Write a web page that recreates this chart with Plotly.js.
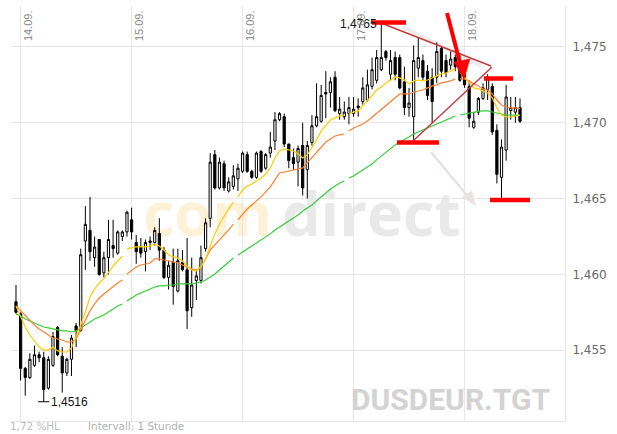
<!DOCTYPE html>
<html>
<head>
<meta charset="utf-8">
<script src="https://cdn.plot.ly/plotly-3.0.1.min.js"></script>
<style>html,body{margin:0;padding:0;background:#fff;}#chart{width:617px;height:434px;}</style>
</head>
<body>
<div id="chart"></div>
<script>
// ---- data (hourly candles, DUSDEUR.TGT) ----
const DAY_LABELS = ['14.09.', '15.09.', '16.09.', '17.09.', '18.09.'];
const DAY_START = [1, 25, 49, 73, 97];           // candle index where each day begins
const SEGMENT_START = [24, 48, 72, 96];          // indicator lines restart here

const OPEN = [1.4582,1.4574,1.4538,1.4532,1.4540,1.4547,1.4545,1.4525,1.4540,1.4565,
1.4546,1.4535,1.4544,1.4566,1.4563,1.4622,1.4629,1.4611,1.4623,1.4601,
1.4611,1.4619,1.4614,1.4625,1.4628,1.4636,1.4621,1.4618,1.4615,1.4622,
1.4621,1.4627,1.4616,1.4598,1.4608,1.4589,1.4608,1.4603,1.4578,1.4596,
1.4596,1.4617,1.4637,1.4679,1.4657,1.4673,1.4655,1.4658,1.4663,1.4668,
1.4679,1.4668,1.4664,1.4681,1.4670,1.4680,1.4688,1.4702,1.4704,1.4686,
1.4677,1.4674,1.4685,1.4669,1.4687,1.4698,1.4701,1.4720,1.4720,1.4730,
1.4706,1.4704,1.4706,1.4706,1.4711,1.4714,1.4715,1.4724,1.4728,1.4735,
1.4747,1.4732,1.4743,1.4743,1.4727,1.4710,1.4704,1.4736,1.4741,1.4734,
1.4730,1.4730,1.4749,1.4741,1.4738,1.4743,1.4739,1.4732,1.4724,1.4697,
1.4707,1.4716,1.4722,1.4724,1.4695,1.4664,1.4682,1.4708,1.4707,1.4710];

const CLOSE = [1.4575,1.4538,1.4532,1.4544,1.4547,1.4545,1.4524,1.4544,1.4559,1.4547,
1.4535,1.4544,1.4558,1.4563,1.4613,1.4633,1.4615,1.4618,1.4600,1.4611,
1.4623,1.4617,1.4628,1.4628,1.4641,1.4628,1.4615,1.4614,1.4621,1.4621,
1.4629,1.4616,1.4598,1.4606,1.4592,1.4609,1.4603,1.4576,1.4593,1.4599,
1.4611,1.4634,1.4674,1.4657,1.4674,1.4657,1.4661,1.4665,1.4670,1.4680,
1.4668,1.4664,1.4680,1.4668,1.4679,1.4684,1.4702,1.4706,1.4686,1.4675,
1.4673,1.4683,1.4657,1.4685,1.4698,1.4704,1.4718,1.4719,1.4727,1.4708,
1.4709,1.4707,1.4710,1.4709,1.4710,1.4723,1.4725,1.4735,1.4743,1.4743,
1.4743,1.4741,1.4732,1.4723,1.4710,1.4713,1.4741,1.4743,1.4730,1.4718,
1.4714,1.4747,1.4734,1.4733,1.4742,1.4737,1.4728,1.4725,1.4703,1.4701,
1.4716,1.4723,1.4730,1.4694,1.4666,1.4684,1.4717,1.4710,1.4710,1.4701];

const HIGH = [1.4593,1.4575,1.4539,1.4548,1.4553,1.4549,1.4549,1.4546,1.4562,1.4566,
1.4552,1.4545,1.4560,1.4568,1.4617,1.4645,1.4651,1.4625,1.4623,1.4615,
1.4636,1.4636,1.4629,1.4629,1.4642,1.4644,1.4626,1.4624,1.4623,1.4625,
1.4631,1.4637,1.4618,1.4609,1.4617,1.4617,1.4616,1.4624,1.4611,1.4603,
1.4619,1.4637,1.4680,1.4682,1.4677,1.4675,1.4664,1.4672,1.4673,1.4681,
1.4681,1.4669,1.4681,1.4682,1.4680,1.4694,1.4707,1.4707,1.4706,1.4686,
1.4683,1.4685,1.4700,1.4688,1.4705,1.4726,1.4725,1.4734,1.4730,1.4734,
1.4717,1.4714,1.4717,1.4717,1.4716,1.4730,1.4735,1.4743,1.4748,1.4765,
1.4748,1.4748,1.4747,1.4745,1.4737,1.4723,1.4751,1.4756,1.4745,1.4738,
1.4736,1.4753,1.4750,1.4745,1.4747,1.4745,1.4746,1.4735,1.4728,1.4707,
1.4717,1.4726,1.4732,1.4726,1.4699,1.4689,1.4725,1.4717,1.4717,1.4716];

const LOW = [1.4574,1.4530,1.4520,1.4531,1.4539,1.4542,1.4516,1.4524,1.4539,1.4546,
1.4522,1.4533,1.4533,1.4552,1.4562,1.4603,1.4609,1.4605,1.4599,1.4598,
1.4600,1.4611,1.4613,1.4622,1.4625,1.4623,1.4607,1.4611,1.4602,1.4616,
1.4619,1.4609,1.4597,1.4590,1.4580,1.4588,1.4602,1.4564,1.4572,1.4583,
1.4594,1.4615,1.4631,1.4656,1.4656,1.4655,1.4654,1.4656,1.4655,1.4667,
1.4667,1.4663,1.4663,1.4667,1.4669,1.4677,1.4682,1.4701,1.4684,1.4670,
1.4669,1.4658,1.4652,1.4650,1.4685,1.4697,1.4700,1.4703,1.4710,1.4707,
1.4702,1.4702,1.4699,1.4704,1.4704,1.4712,1.4714,1.4722,1.4726,1.4734,
1.4741,1.4728,1.4728,1.4722,1.4705,1.4704,1.4688,1.4730,1.4728,1.4715,
1.4700,1.4726,1.4730,1.4730,1.4735,1.4734,1.4727,1.4723,1.4697,1.4696,
1.4705,1.4715,1.4715,1.4692,1.4660,1.4649,1.4675,1.4702,1.4700,1.4700];

const MA_YELLOW = [1.45792,1.45726,1.45653,1.45600,1.45561,1.45521,1.45501,1.45501,1.45521,1.45495,
1.45488,1.45488,1.45515,1.45587,1.45666,1.45752,1.45851,1.45904,1.45943,1.45970,
1.46016,1.46055,1.46088,1.46121,1.46168,1.46174,1.46181,1.46181,1.46181,1.46187,
1.46201,1.46187,1.46161,1.46128,1.46115,1.46108,1.46088,1.46055,1.46029,1.46022,
1.46049,1.46102,1.46181,1.46267,1.46332,1.46385,1.46431,1.46478,1.46511,1.46557,
1.46583,1.46596,1.46616,1.46636,1.46662,1.46702,1.46768,1.46814,1.46827,1.46821,
1.46814,1.46794,1.46768,1.46788,1.46834,1.46887,1.46946,1.46985,1.47018,1.47032,
1.47045,1.47051,1.47058,1.47071,1.47078,1.47111,1.47144,1.47177,1.47216,1.47236,
1.47263,1.47282,1.47302,1.47296,1.47282,1.47256,1.47276,1.47282,1.47276,1.47282,
1.47296,1.47309,1.47322,1.47328,1.47342,1.47355,1.47335,1.47302,1.47263,1.47230,
1.47223,1.47210,1.47197,1.47164,1.47098,1.47051,1.47038,1.47038,1.47045,1.47051];

const MA_ORANGE = [1.45792,1.45759,1.45726,1.45699,1.45666,1.45640,1.45620,1.45600,1.45581,1.45574,
1.45567,1.45554,1.45554,1.45574,1.45633,1.45699,1.45759,1.45805,1.45844,1.45871,
1.45897,1.45917,1.45943,1.45963,1.46003,1.46029,1.46049,1.46062,1.46069,1.46075,
1.46102,1.46102,1.46095,1.46088,1.46082,1.46075,1.46062,1.46049,1.46036,1.46029,
1.46049,1.46102,1.46161,1.46194,1.46227,1.46253,1.46293,1.46332,1.46359,1.46398,
1.46431,1.46458,1.46484,1.46511,1.46544,1.46577,1.46623,1.46669,1.46675,1.46682,
1.46689,1.46695,1.46702,1.46735,1.46768,1.46807,1.46840,1.46873,1.46893,1.46913,
1.46920,1.46926,1.46946,1.46966,1.46979,1.46992,1.47012,1.47038,1.47065,1.47091,
1.47117,1.47144,1.47170,1.47190,1.47190,1.47190,1.47203,1.47210,1.47216,1.47230,
1.47243,1.47249,1.47263,1.47269,1.47276,1.47289,1.47289,1.47289,1.47276,1.47256,
1.47243,1.47223,1.47216,1.47190,1.47150,1.47117,1.47104,1.47098,1.47098,1.47091];

const MA_GREEN = [1.45739,1.45726,1.45706,1.45693,1.45679,1.45666,1.45653,1.45647,1.45640,1.45633,
1.45627,1.45627,1.45620,1.45627,1.45647,1.45666,1.45686,1.45706,1.45719,1.45732,
1.45752,1.45772,1.45792,1.45805,1.45825,1.45844,1.45864,1.45877,1.45891,1.45904,
1.45917,1.45924,1.45924,1.45930,1.45930,1.45937,1.45937,1.45937,1.45937,1.45943,
1.45950,1.45963,1.45983,1.46003,1.46029,1.46055,1.46082,1.46108,1.46128,1.46148,
1.46168,1.46187,1.46207,1.46227,1.46247,1.46267,1.46293,1.46313,1.46332,1.46352,
1.46372,1.46392,1.46418,1.46438,1.46458,1.46484,1.46511,1.46537,1.46563,1.46583,
1.46603,1.46616,1.46636,1.46649,1.46669,1.46689,1.46708,1.46728,1.46755,1.46781,
1.46807,1.46834,1.46854,1.46873,1.46887,1.46906,1.46926,1.46939,1.46952,1.46966,
1.46979,1.46992,1.47005,1.47018,1.47032,1.47045,1.47051,1.47058,1.47065,1.47071,
1.47075,1.47078,1.47078,1.47071,1.47065,1.47058,1.47051,1.47051,1.47048,1.47048];

const Y_TICKS = [1.455, 1.460, 1.465, 1.470, 1.475];
const SYMBOL = 'DUSDEUR.TGT';
const INFO_LEFT = '1,72 %HL';
const INFO_INTERVAL = 'Intervall: 1 Stunde';
const WATERMARK = ['com', 'direct'];

// ---- geometry ----
const W = 617, H = 434;
const M = {l: 11, r: 52, t: 6, b: 13};
const PX0 = M.l, PX1 = W - M.r, PY0 = M.t, PY1 = H - M.b;
const X_RANGE = [-1.08, 118.73];
const Y_RANGE = [1.45033, 1.47770];
const px = x => (x - PX0) / (PX1 - PX0);      // pixel -> paper x
const py = y => (PY1 - y) / (PY1 - PY0);      // pixel -> paper y

const IDX = OPEN.map((_, i) => i);
const fmt = v => v.toFixed(4).replace('.', ',');

function withGaps(vals) {
  const xs = [], ys = [];
  vals.forEach((v, i) => {
    if (SEGMENT_START.includes(i)) { xs.push(i - 0.5); ys.push(null); }
    xs.push(i); ys.push(v);
  });
  return {xs, ys};
}

const traces = [{
  type: 'candlestick', x: IDX, open: OPEN, high: HIGH, low: LOW, close: CLOSE,
  increasing: {line: {color: '#000', width: 1}, fillcolor: '#ffffff'},
  decreasing: {line: {color: '#000', width: 1}, fillcolor: '#000000'},
  whiskerwidth: 0, hoverinfo: 'skip', showlegend: false
}];
[[MA_GREEN, '#36cc36'], [MA_ORANGE, '#ff7f2e'], [MA_YELLOW, '#ffcc00']].forEach(([vals, col]) => {
  const g = withGaps(vals);
  traces.push({type: 'scatter', mode: 'lines', x: g.xs, y: g.ys, connectgaps: false,
    line: {color: col, width: 1.2}, hoverinfo: 'skip', showlegend: false});
});

const iHigh = HIGH.indexOf(Math.max(...HIGH));
const iLow = LOW.indexOf(Math.min(...LOW));

const red = '#ff0000', dark = '#c43a3a';
const line = (x0, y0, x1, y1, color, width, layer) => ({type: 'line', xref: 'paper', yref: 'paper',
  x0: px(x0), y0: py(y0), x1: px(x1), y1: py(y1), line: {color, width}, layer: layer || 'above'});
const path = (pts, color, layer) => ({type: 'path', xref: 'paper', yref: 'paper',
  path: 'M' + pts.map(p => px(p[0]) + ',' + py(p[1])).join(' L') + ' Z',
  fillcolor: color, line: {color, width: 0.5}, layer: layer || 'above'});
const wordShape = (x0, x1, txt, color) => ({type: 'rect', xref: 'paper', yref: 'paper', layer: 'below',
  x0: px(x0), x1: px(x1), y0: py(247), y1: py(185), line: {width: 0}, fillcolor: 'rgba(0,0,0,0)',
  label: {text: txt, textposition: 'middle left', padding: 0,
    font: {family: 'Open Sans', size: 61, weight: 700, color}}});

const shapes = [
  wordShape(140, 276, WATERMARK[0], '#fdf2d8'),
  wordShape(279, 455, WATERMARK[1], '#e9e9e9'),
  // faint grey shadows
  line(403, 27, 481, 66, '#ececec', 4, 'below'),
  line(431, 152, 470, 199, '#e8dede', 2, 'below'),
  path([[462, 197], [476, 206], [472, 191]], '#ebe3e3', 'below'),
  // low tick
  {type: 'line', xref: 'x', yref: 'y', x0: iLow - 1.2, x1: iLow + 1.2, y0: LOW[iLow], y1: LOW[iLow],
   line: {color: '#000', width: 1}},
  // triangle
  line(381, 23, 491, 66, dark, 1.4),
  line(413, 141, 492, 67, dark, 1.4),
  // red bars
  line(372, 22.5, 406, 22.5, red, 4.5),
  line(484, 78.5, 513, 78.5, red, 4.5),
  line(397, 142.5, 439, 142.5, red, 4.5),
  line(490, 200, 530, 200, red, 4.5),
  // red arrow
  line(447, 13, 460, 63, red, 4),
  path([[454, 62], [470, 59], [464, 79]], red)
];

const annotations = [
  {xref: 'paper', yref: 'paper', x: px(552), y: py(399), xanchor: 'right', yanchor: 'middle', showarrow: false,
   text: '<b>' + SYMBOL + '</b>', font: {family: 'Roboto', size: 30, color: '#d3d3d3'}},
  {xref: 'x', yref: 'y', x: iHigh, y: HIGH[iHigh], xanchor: 'right', yanchor: 'middle', xshift: -2, showarrow: false,
   text: fmt(HIGH[iHigh]), font: {family: 'Liberation Sans', size: 12, color: '#111'}},
  {xref: 'x', yref: 'y', x: iLow, y: LOW[iLow], xanchor: 'left', yanchor: 'middle', xshift: 5, showarrow: false,
   text: fmt(LOW[iLow]), font: {family: 'Liberation Sans', size: 12, color: '#111'}},
  {xref: 'paper', yref: 'paper', x: px(8), y: py(426), xanchor: 'left', yanchor: 'middle', showarrow: false,
   text: INFO_LEFT, font: {family: 'DejaVu Sans', size: 10.4, color: '#bdbdbd'}},
  {xref: 'paper', yref: 'paper', x: px(86), y: py(426), xanchor: 'left', yanchor: 'middle', showarrow: false,
   text: INFO_INTERVAL, font: {family: 'DejaVu Sans', size: 10.4, color: '#b0b0b0'}}
];
DAY_LABELS.forEach((lab, i) => annotations.push({
  xref: 'x', yref: 'paper', x: DAY_START[i], y: py(8), xanchor: 'left', yanchor: 'top', xshift: -1,
  textangle: -90, showarrow: false, text: lab,
  font: {family: 'Liberation Sans', size: 11, color: '#8a8a8a'}
}));

const layout = {
  width: W, height: H, margin: M, paper_bgcolor: '#fff', plot_bgcolor: '#fff',
  separators: ',.', showlegend: false, boxgap: 0.32,
  xaxis: {range: X_RANGE, tickvals: DAY_START, showticklabels: false, ticks: '',
    showgrid: true, gridcolor: '#e6e6e6', gridwidth: 1, zeroline: false,
    showline: true, linecolor: '#e6e6e6', linewidth: 1, rangeslider: {visible: false}, fixedrange: true},
  yaxis: {range: Y_RANGE, side: 'right', tickvals: Y_TICKS, tickformat: '.3f', ticks: '',
    showgrid: true, gridcolor: '#e6e6e6', gridwidth: 1, zeroline: false,
    showline: true, linecolor: '#e6e6e6', linewidth: 1, ticklabelstandoff: 4,
    tickfont: {family: 'DejaVu Sans', size: 12, color: '#6a6a6a'}, fixedrange: true},
  shapes, annotations
};

Plotly.newPlot('chart', traces, layout, {staticPlot: true, displayModeBar: false});
</script>
</body>
</html>
